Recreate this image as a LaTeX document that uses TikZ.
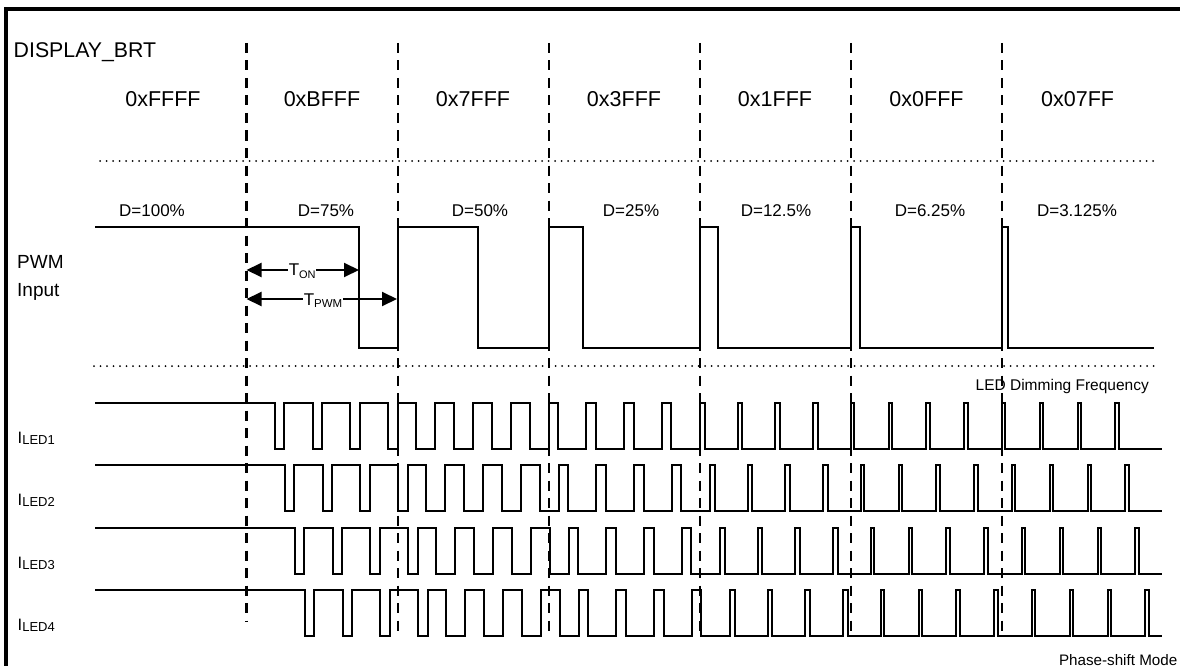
\documentclass[tikz,border=0pt]{standalone}
\usepackage{fontspec}
\setmainfont{Liberation Sans}
\usetikzlibrary{arrows.meta}
\newcommand\setfs[1]{\fontsize{#1}{#1}\selectfont}
\begin{document}
\begin{tikzpicture}[x=1pt,y=-1pt,
  wave/.style={line width=2pt, line join=miter},
  vdash/.style={line width=2.2pt, dash pattern=on 10pt off 7.5pt},
  hdot/.style={line width=2pt, line cap=round, dash pattern=on 0pt off 6.5pt},
  dimarrow/.style={line width=2pt, {Triangle[length=15pt,width=14pt]}-{Triangle[length=15pt,width=14pt]}},
  txt/.style={inner sep=0pt}
]
\useasboundingbox (0,0) rectangle (1180,666);
\clip (0,0) rectangle (1180,666);
\fill[white] (0,0) rectangle (1180,666);
\draw[line width=4pt] (5.5,9.5) rectangle (1230,730);

% dashed region separators
\foreach \x/\b in {246.5/622,397.6/634,548.7/634,699.8/634,850.9/634,1002/634}
  \draw[vdash] (\x,43) -- (\x,\b);

% dotted separators
\draw[hdot] (100,161) -- (1158,161);
\draw[hdot] (94,366) -- (1158,366);

% texts
\node[txt, anchor=base west, font=\setfs{21.3}] (title) at (13.5,57.3) {DISPLAY\_BRT};
\foreach \x/\t [count=\i] in {163/0xFFFF,322/0xBFFF,473/0x7FFF,624/0x3FFF,775/0x1FFF,926.5/0x0FFF,1077.6/0x07FF}
  \node[txt, anchor=base, font=\setfs{21.5}] (hex\i) at (\x,106.7) {\t};
\foreach \x/\t [count=\i] in {152/D=100\%,326/D=75\%,480/D=50\%,631/D=25\%,776/D=12.5\%,930/D=6.25\%,1077/D=3.125\%}
  \node[txt, anchor=base, font=\setfs{17}] (duty\i) at (\x,216) {\t};
\node[txt, anchor=base west, font=\setfs{19}] (pwm) at (17,268) {PWM};
\node[txt, anchor=base west, font=\setfs{19}] (input) at (17,296) {Input};
\foreach \k/\y in {1/443.3,2/505.7,3/568.1,4/630.5}
  \node[txt, anchor=base west] (iled\k) at (17.5,\y) {\setfs{16.5}I\raisebox{-1pt}{\setfs{13}LED\k}};
\node[txt, anchor=base east, font=\setfs{15.5}] (ldf) at (1149,390.5) {LED Dimming Frequency};
\node[txt, anchor=base east, font=\setfs{15.2}] (psm) at (1177.5,665) {Phase-shift Mode};

% PWM input waveform
\draw[wave] (95,227) -- (359,227) -- (359,348) -- (397.6,348) -- (397.6,227)
  -- (477.5,227) -- (477.5,348) -- (548.7,348) -- (548.7,227)
  -- (583,227) -- (583,348) -- (699.8,348) -- (699.8,227)
  -- (717.5,227) -- (717.5,348) -- (850.9,348) -- (850.9,227)
  -- (859.5,227) -- (859.5,348) -- (1002,348) -- (1002,227)
  -- (1007.5,227) -- (1007.5,348) -- (1154,348);

% T_ON / T_PWM
\coordinate (tonA) at (246.5,270);
\coordinate (tonB) at (359,270);
\coordinate (tpwmA) at (246.5,299);
\coordinate (tpwmB) at (397,299);
\draw[dimarrow] (tonA) -- (tonB);
\draw[dimarrow] (tpwmA) -- (tpwmB);
\node[anchor=base west, inner sep=0.6pt, fill=white] (ton) at (288,275)
  {\setfs{17}T\raisebox{-3pt}{\setfs{11}ON}};
\node[anchor=base west, inner sep=0.6pt, fill=white] (tpwm) at (303,305)
  {\setfs{17}T\raisebox{-2.3pt}{\setfs{11.5}PWM}};

% LED current waveforms (phase shifted)
\foreach \k/\H in {0/403,1/465.3,2/527.6,3/589.9}{
  \pgfmathsetmacro\L{\H+46}
  \pgfmathsetmacro\cz{246.5+10*\k}
  \pgfmathsetmacro\fz{\cz+0.75*37.775}
  \draw[wave] (95,\H) -- (\fz,\H) -- (\fz,\L)
    \foreach \m [evaluate=\m as \c using {\cz+37.775*\m},
                 evaluate=\m as \f using {\cz+37.775*\m+max(3.3,(0.5^floor(\m/4)-0.25*(floor(\m/4)==0))*37.775)}]
      in {1,...,23} { -- (\c,\L) -- (\c,\H) -- (\f,\H) -- (\f,\L) }
    -- (1162,\L);
}
\end{tikzpicture}
\end{document}
